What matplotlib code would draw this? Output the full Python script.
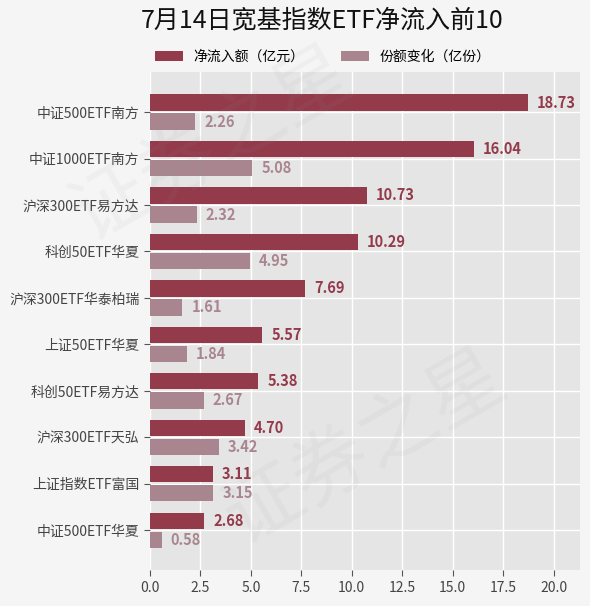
import matplotlib as mpl
mpl.use('Agg')
import matplotlib.pyplot as plt
import numpy as np

plt.rcParams['font.family'] = ['Noto Sans CJK SC', 'DejaVu Sans']

names = ["中证500ETF南方", "中证1000ETF南方", "沪深300ETF易方达", "科创50ETF华夏",
         "沪深300ETF华泰柏瑞", "上证50ETF华夏", "科创50ETF易方达", "沪深300ETF天弘",
         "上证指数ETF富国", "中证500ETF华夏"]
net_inflow = [18.73, 16.04, 10.73, 10.29, 7.69, 5.57, 5.38, 4.70, 3.11, 2.68]
share_change = [2.26, 5.08, 2.32, 4.95, 1.61, 1.84, 2.67, 3.42, 3.15, 0.58]

c_dark = '#933a4b'
c_light = '#a9868f'

fig = plt.figure(figsize=(5.9, 6.06), dpi=100, facecolor='#f5f5f5')
ax = fig.add_axes([0.254, 0.059, 0.729, 0.822])
ax.set_facecolor('#e5e5e5')

# watermark (faint, behind everything)
fig.text(0.36, 0.76, "证券之星", fontsize=56, color='#999999', alpha=0.07, rotation=30,
         ha='center', va='center', zorder=0)
fig.text(0.62, 0.26, "证券之星", fontsize=56, color='#999999', alpha=0.07, rotation=30,
         ha='center', va='center', zorder=0)

y = np.arange(len(names))
h = 0.35
ax.barh(y - 0.205, net_inflow, h, color=c_dark, label="净流入额（亿元）", zorder=3)
ax.barh(y + 0.205, share_change, h, color=c_light, label="份额变化（亿份）", zorder=3)

for i in range(len(names)):
    ax.text(net_inflow[i] + 0.45, y[i] - 0.205, f"{net_inflow[i]:.2f}", va='center', ha='left',
            fontsize=10.5, fontweight='bold', color=c_dark, zorder=4)
    ax.text(share_change[i] + 0.45, y[i] + 0.205, f"{share_change[i]:.2f}", va='center', ha='left',
            fontsize=10.5, fontweight='bold', color=c_light, zorder=4)

ax.set_yticks(y)
ax.set_yticklabels(names, fontsize=10, color='#444444')
ax.set_xticks(np.arange(0, 21, 2.5))
ax.set_xticklabels([f"{v:.1f}" for v in np.arange(0, 21, 2.5)], fontsize=10, color='#444444')
ax.set_xlim(0, 21.3)
ax.set_ylim(9.86, -0.86)
ax.grid(True, color='white', lw=1, zorder=0)
ax.set_axisbelow(True)
for s in ax.spines.values():
    s.set_visible(False)
ax.tick_params(axis='both', length=4, color='#555555')

fig.text(0.546, 0.967, "7月14日宽基指数ETF净流入前10", ha='center', va='center', fontsize=18, color='#111111')
fig.legend(loc='center', bbox_to_anchor=(0.547, 0.906), ncol=2, frameon=False, fontsize=10,
           handlelength=2.0, handleheight=0.7, columnspacing=2.6)

plt.savefig('out.png', dpi=100, facecolor=fig.get_facecolor())
